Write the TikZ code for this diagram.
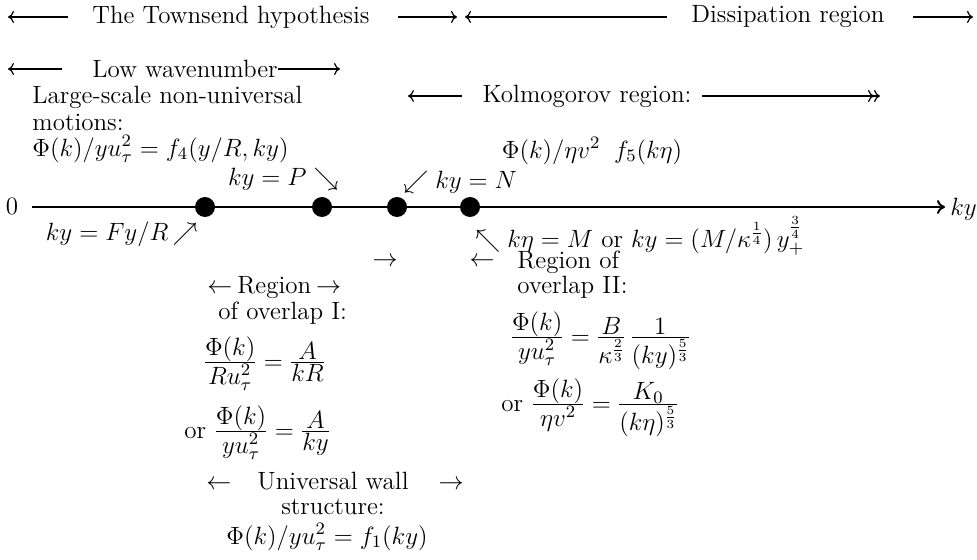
\RequirePackage{fix-cm}
\documentclass[tikz,border=0pt]{standalone}
\usepackage{amsmath}
\usetikzlibrary{arrows.meta}
\newcommand{\myfrac}[2]{\frac{\textstyle #1}{\textstyle #2}}
\nulldelimiterspace=0.8pt
\begin{document}
\begin{tikzpicture}[x=0.5pt,y=-0.5pt,
  every node/.style={font=\fontsize{12.5}{15}\selectfont, inner sep=0pt},
  arr/.style={line width=0.6pt,-{To[length=3pt,width=6pt]}},
  arrr/.style={line width=0.6pt,-{To[length=3pt,width=6pt]To[length=3pt,width=6pt]}},
  axisline/.style={line width=1pt},
  dot/.style={circle,fill=black,minimum size=10pt,inner sep=0pt}]
\useasboundingbox (0,0) rectangle (977,560);

% Row 1
\node (th) at (231,17) {The Townsend hypothesis};
\coordinate (r1a) at (8,17); \coordinate (r1b) at (68,17);
\draw[arr] (r1b) -- (r1a);
\coordinate (r1c) at (398,17); \coordinate (r1d) at (457,17);
\draw[arr] (r1c) -- (r1d);
\coordinate (r1e) at (465,17); \coordinate (r1f) at (667,17);
\draw[arr] (r1f) -- (r1e);
\node (dr) at (788,17) {Dissipation region};
\coordinate (r1g) at (913,17); \coordinate (r1h) at (973,17);
\draw[arr] (r1g) -- (r1h);

% Row 2
\node[anchor=west] (lw) at (92,69) {Low wavenumber};
\coordinate (r2a) at (8,69); \coordinate (r2b) at (62,69);
\draw[arr] (r2b) -- (r2a);
\coordinate (r2c) at (340,69);
\draw[arr] (lw.east) -- (r2c);

\node[anchor=west] (ls) at (32,97) {Large-scale non-universal};
\node[anchor=west] (mo) at (32,122) {motions:};
\node[anchor=west] (f4) at (32,149) {$\Phi(k)/yu_\tau^2 = f_4(y/R, ky)$};
\node[anchor=east] (kp) at (339,179) {$ky = P\searrow$};

% Kolmogorov
\coordinate (ka) at (408,96); \coordinate (kb) at (462,96);
\draw[arr] (kb) -- (ka);
\node (kr) at (587,96) {Kolmogorov region:};
\coordinate (kc) at (702,96); \coordinate (kd) at (880,96);
\draw[arrr] (kc) -- (kd);
\node (f5) at (592,151) {$\Phi(k)/\eta v^2\;\; f_5(k\eta)$};
\node[anchor=west] (kn) at (403,182) {$\swarrow ky = N$};

% Axis
\node (zero) at (12,206) {0};
\coordinate (ax0) at (32,207);
\node[dot] (d1) at (205,207) {};
\node[dot] (d2) at (322,207) {};
\node[dot] (d3) at (397,207) {};
\node[dot] (d4) at (470,207) {};
\coordinate (axe) at (945,207);
\draw[axisline] (ax0) -- (d1);
\draw[axisline] (d1) -- (d2);
\draw[axisline] (d2) -- (d3);
\draw[axisline] (d3) -- (d4);
\draw[axisline,-{To[length=4pt,width=7pt]}] (d4) -- (axe);
\node[anchor=west] (kyl) at (950,209) {$ky$};

\node[anchor=east] (fr) at (198,234) {$ky = Fy/R\,{\nearrow}$};
\node[anchor=west] (km) at (475,236) {$\nwarrow k\eta = M$ or $ky = (M/\kappa^{\frac{1}{4}})\,y_+^{\frac{3}{4}}$};

% Overlap II
\node (ra) at (385,262) {$\rightarrow$};
\node (la) at (482,262) {$\leftarrow$};
\node[anchor=west] (rg2) at (517,262) {Region of};
\node[anchor=west] (ov2) at (517,287) {overlap II:};
\node[anchor=base west] (eq2) at (510,344) {$\myfrac{\Phi(k)}{yu_\tau^2} = \myfrac{B}{\kappa^{\frac{2}{3}}}\,\myfrac{1}{(ky)^{\frac{5}{3}}}$};
\node[anchor=base west] (eq3) at (501,411) {or $\myfrac{\Phi(k)}{\eta v^2} = \myfrac{K_0}{(k\eta)^{\frac{5}{3}}}$};

% Overlap I
\node[anchor=west] (rg1) at (207,288) {$\leftarrow$\hspace{2.5pt}Region\hspace{2.5pt}$\rightarrow$};
\node[anchor=west] (ov1) at (218,313) {of overlap I:};
\node[anchor=base west] (eq1) at (203,369) {$\myfrac{\Phi(k)}{Ru_\tau^2} = \myfrac{A}{kR}$};
\node[anchor=base west] (eq1b) at (184,438) {or $\myfrac{\Phi(k)}{yu_\tau^2} = \myfrac{A}{ky}$};

% Universal wall
\node (uw) at (335,481) {$\leftarrow$\hspace{13pt}Universal wall\hspace{15pt}$\rightarrow$};
\node (st) at (333,507) {structure:};
\node (f1) at (327,537) {$\Phi(k)/yu_\tau^2 = f_1(ky)$};
\end{tikzpicture}
\end{document}
